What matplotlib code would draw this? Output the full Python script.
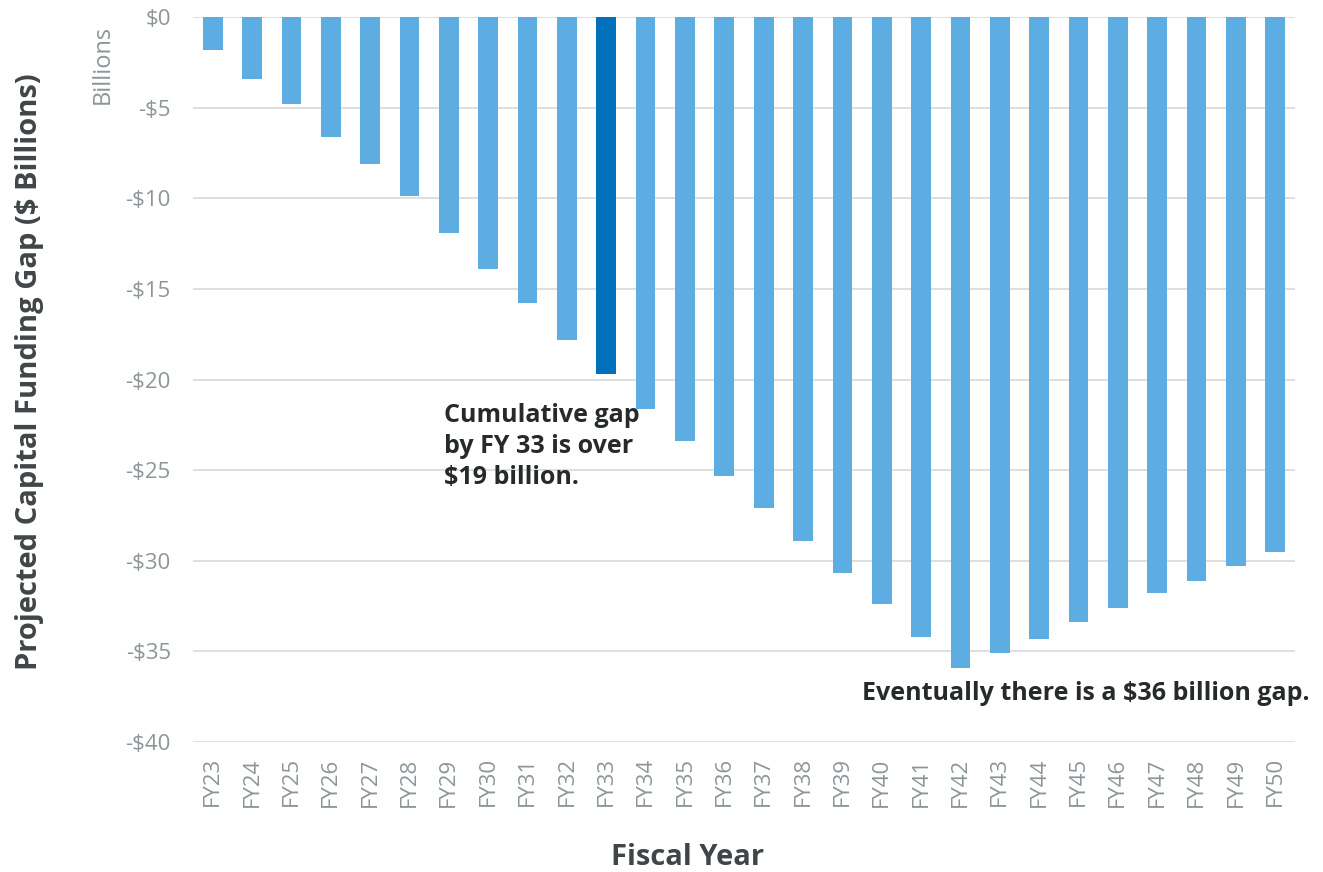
import numpy as np
import matplotlib.pyplot as plt

plt.rcParams['font.family'] = ['Open Sans', 'DejaVu Sans']

# data ($ billions, cumulative gap)
years = ["FY23", "FY24", "FY25", "FY26", "FY27", "FY28", "FY29", "FY30", "FY31", "FY32",
         "FY33", "FY34", "FY35", "FY36", "FY37", "FY38", "FY39", "FY40", "FY41", "FY42",
         "FY43", "FY44", "FY45", "FY46", "FY47", "FY48", "FY49", "FY50"]
gap = [-1.8, -3.4, -4.8, -6.6, -8.1, -9.9, -11.9, -13.9, -15.8, -17.8,
       -19.7, -21.6, -23.4, -25.3, -27.1, -28.9, -30.7, -32.4, -34.2, -35.9,
       -35.1, -34.3, -33.4, -32.6, -31.8, -31.1, -30.3, -29.5]
highlight = "FY33"
yticks = [0, -5, -10, -15, -20, -25, -30, -35, -40]
ytick_labels = ["$0", "-$5", "-$10", "-$15", "-$20", "-$25", "-$30", "-$35", "-$40"]

light = "#5DADE2"
dark = "#0070BA"
grey = "#8C9698"
txt = "#262A2B"

fig = plt.figure(figsize=(13.23, 8.72), dpi=100)
ax = fig.add_axes([0.1459, 0.149, 0.8329, 0.8315])

x = np.arange(len(years))
cols = [dark if y == highlight else light for y in years]
ax.bar(x, gap, width=0.5, color=cols, zorder=3)

ax.set_xlim(-0.5, len(years) - 0.5)
ax.set_ylim(-40, 0)
ax.set_yticks(yticks)
ax.set_yticklabels(ytick_labels)
ax.set_xticks(x)
ax.set_xticklabels(years, rotation=90)
ax.tick_params(axis='both', length=0, labelsize=16, colors=grey)
ax.tick_params(axis='x', pad=11)
ax.tick_params(axis='y', pad=16)

ax.grid(axis='y', color="#DCDCDC", linewidth=1.3, zorder=0)
for s in ax.spines.values():
    s.set_visible(False)

# axis titles placed where the original has them
fig.text(688 / 1323, 1 - 857 / 872, "Fiscal Year", fontsize=21, fontweight='bold',
         color="#404547", ha='center', va='center')
fig.text(30 / 1323, 1 - 372 / 872, "Projected Capital Funding Gap ($ Billions)", rotation=90,
         fontsize=21, fontweight='bold', color="#404547", ha='center', va='center')
fig.text(103 / 1323, 1 - 64 / 872, "Billions", rotation=90, fontsize=17, color=grey,
         ha='center', va='center')

ax.text(5.88, -21.3, "Cumulative gap\nby FY 33 is over\n$19 billion.", fontsize=18,
        fontweight='bold', color=txt, ha='left', va='top', linespacing=1.32)
ax.text(27.88, -37.3, "Eventually there is a $36 billion gap.", fontsize=18,
        fontweight='bold', color=txt, ha='right', va='center', clip_on=False)

fig.savefig("out.png", dpi=100)
